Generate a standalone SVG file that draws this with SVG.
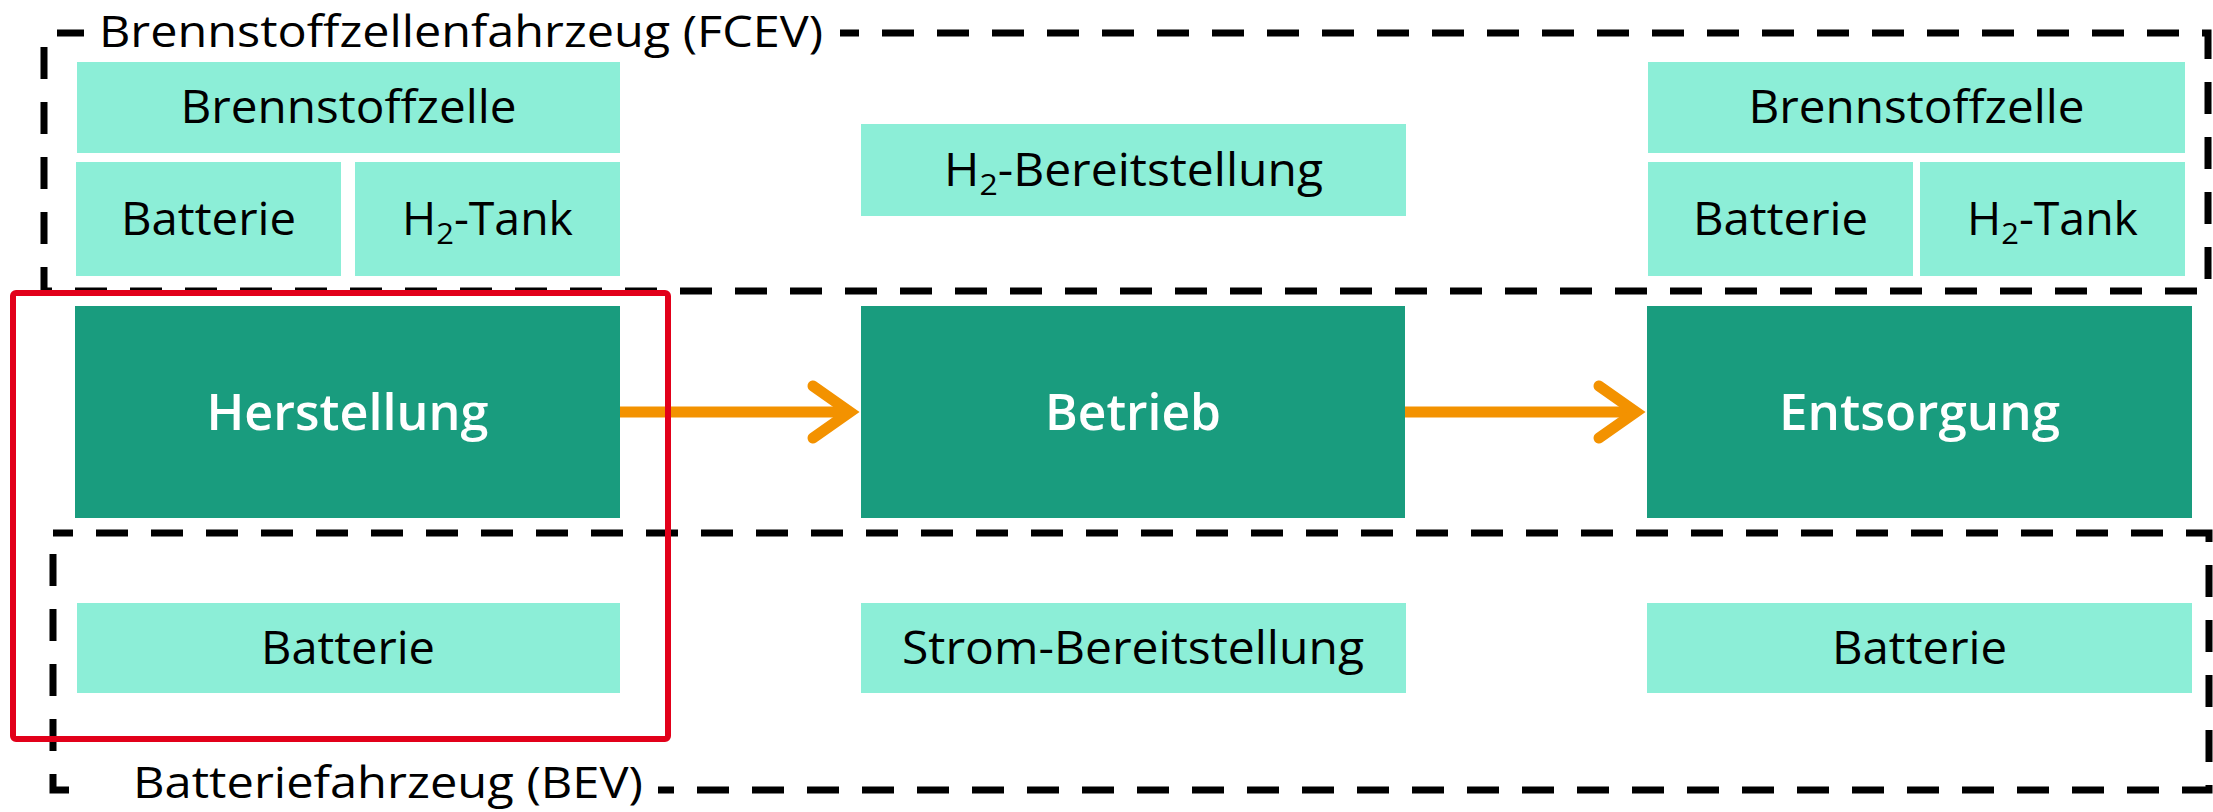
<svg xmlns="http://www.w3.org/2000/svg" width="2213" height="812" viewBox="0 0 2213 812">
<style>
.lt{fill:#8ceed7}
.dk{fill:#199c7e}
.t{font-family:"Open Sans","Noto Sans","Liberation Sans",sans-serif;font-size:45px;fill:#000;text-anchor:middle}
.tb{font-family:"Open Sans","Noto Sans","Liberation Sans",sans-serif;font-size:50px;font-weight:600;fill:#fff;text-anchor:middle}
.lab{font-family:"Open Sans","Noto Sans","Liberation Sans",sans-serif;font-size:44px;fill:#000}
.dash{fill:none;stroke:#000;stroke-width:7;stroke-dasharray:32 23}
.arr{fill:none;stroke:#f39200;stroke-width:11}
.sub{font-size:30px}
</style>
<defs>
<marker id="chev" markerUnits="userSpaceOnUse" markerWidth="70" markerHeight="70" refX="50" refY="35" orient="auto" overflow="visible">
<polyline points="13,9 50,35 13,61" fill="none" stroke="#f39200" stroke-width="11" stroke-linecap="round" stroke-linejoin="miter"/>
</marker>
</defs>
<rect width="2213" height="812" fill="#fff"/>
<g id="fcev-group">
<path class="dash" style="stroke-dashoffset:42" d="M44,33 H2208 V291 H44 Z"/>
<rect x="84" y="10" width="756" height="40" fill="#fff"/>
<text class="lab" x="99" y="47" textLength="724" lengthAdjust="spacingAndGlyphs">Brennstoffzellenfahrzeug (FCEV)</text>
</g>
<g id="bev-group">
<path class="dash" style="stroke-dashoffset:12" d="M53,533 H2209 V790 H53 Z"/>
<rect x="92" y="775" width="566" height="30" fill="#fff"/>
<text class="lab" x="133" y="798" textLength="510" lengthAdjust="spacingAndGlyphs">Batteriefahrzeug (BEV)</text>
</g>
<g id="bz1"><rect class="lt" x="77" y="62" width="543" height="91"/><text class="t" x="348.5" y="123" textLength="336" lengthAdjust="spacingAndGlyphs">Brennstoffzelle</text></g>
<g id="bat1"><rect class="lt" x="76" y="162" width="265" height="114"/><text class="t" x="208.5" y="235" textLength="175" lengthAdjust="spacingAndGlyphs">Batterie</text></g>
<g id="tank1"><rect class="lt" x="355" y="162" width="265" height="114"/><text class="t" x="487.5" y="235" textLength="171" lengthAdjust="spacingAndGlyphs">H<tspan class="sub" dy="9">2</tspan><tspan dy="-9">-Tank</tspan></text></g>
<g id="h2b"><rect class="lt" x="861" y="124" width="545" height="92"/><text class="t" x="1133.5" y="186" textLength="379" lengthAdjust="spacingAndGlyphs">H<tspan class="sub" dy="9">2</tspan><tspan dy="-9">-Bereitstellung</tspan></text></g>
<g id="bz2"><rect class="lt" x="1648" y="62" width="537" height="91"/><text class="t" x="1916.5" y="123" textLength="336" lengthAdjust="spacingAndGlyphs">Brennstoffzelle</text></g>
<g id="bat2"><rect class="lt" x="1648" y="162" width="265" height="114"/><text class="t" x="1780.5" y="235" textLength="175" lengthAdjust="spacingAndGlyphs">Batterie</text></g>
<g id="tank2"><rect class="lt" x="1920" y="162" width="265" height="114"/><text class="t" x="2052.5" y="235" textLength="171" lengthAdjust="spacingAndGlyphs">H<tspan class="sub" dy="9">2</tspan><tspan dy="-9">-Tank</tspan></text></g>
<g id="herstellung"><rect class="dk" x="75" y="306" width="545" height="212"/><text class="tb" x="347.5" y="430" textLength="282" lengthAdjust="spacingAndGlyphs">Herstellung</text></g>
<g id="betrieb"><rect class="dk" x="861" y="306" width="544" height="212"/><text class="tb" x="1133" y="430" textLength="176" lengthAdjust="spacingAndGlyphs">Betrieb</text></g>
<g id="entsorgung"><rect class="dk" x="1647" y="306" width="545" height="212"/><text class="tb" x="1919.5" y="430" textLength="281" lengthAdjust="spacingAndGlyphs">Entsorgung</text></g>
<g id="bat3"><rect class="lt" x="77" y="603" width="543" height="90"/><text class="t" x="348" y="664" textLength="174" lengthAdjust="spacingAndGlyphs">Batterie</text></g>
<g id="strom"><rect class="lt" x="861" y="603" width="545" height="90"/><text class="t" x="1133" y="664" textLength="462" lengthAdjust="spacingAndGlyphs">Strom-Bereitstellung</text></g>
<g id="bat4"><rect class="lt" x="1647" y="603" width="545" height="90"/><text class="t" x="1919.5" y="664" textLength="175" lengthAdjust="spacingAndGlyphs">Batterie</text></g>
<g id="connectors">
<line class="arr" x1="620" y1="412" x2="850" y2="412" marker-end="url(#chev)"/>
<line class="arr" x1="1405" y1="412" x2="1636" y2="412" marker-end="url(#chev)"/>
</g>
<g id="highlight">
<rect x="13" y="293" width="655" height="446" rx="3" fill="none" stroke="#e2001a" stroke-width="6"/>
</g>
</svg>
